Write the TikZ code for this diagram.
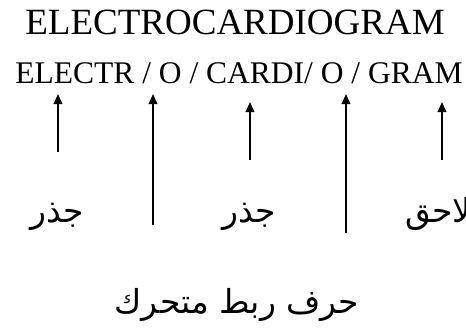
\documentclass[tikz,border=0pt]{standalone}
\usepackage{fontspec}
\setmainfont{Liberation Serif}
\newfontfamily\arabicfont[Script=Arabic]{DejaVu Sans}
\TeXXeTstate=1
\usetikzlibrary{arrows.meta}
\begin{document}
\begin{tikzpicture}[x=1pt,y=-1pt,
  txt/.style={inner sep=0pt,outer sep=0pt,anchor=base},
  arr/.style={line width=1.8pt,-{Triangle[length=10pt,width=8.5pt]}},
  ar/.style={txt,font=\arabicfont\fontsize{33}{38}\selectfont}]
\useasboundingbox (0,0) rectangle (466,327);
\node[txt,font=\fontsize{37}{40}\selectfont] (title) at (235,34) {ELECTROCARDIOGRAM};
\node[txt,font=\fontsize{31.5}{34}\selectfont] (split) at (239,83) {ELECTR / O / CARDI/ O / GRAM};
\coordinate (t1) at (58,94);  \coordinate (b1) at (58,152);
\coordinate (t2) at (153,94); \coordinate (b2) at (153,225);
\coordinate (t3) at (250,102); \coordinate (b3) at (250,160);
\coordinate (t4) at (346,94); \coordinate (b4) at (346,233);
\coordinate (t5) at (442,102); \coordinate (b5) at (442,160);
\draw[arr] (b1) -- (t1);
\draw[arr] (b2) -- (t2);
\draw[arr] (b3) -- (t3);
\draw[arr] (b4) -- (t4);
\draw[arr] (b5) -- (t5);
\node[ar] (root1) at (57,222) {\beginR جذر\endR};
\node[ar] (root2) at (249,222) {\beginR جذر\endR};
\node[ar,anchor=base west] (suffix) at (405,222) {\beginR لاحق\endR};
\node[ar] (link) at (237,313) {\beginR حرف ربط متحرك\endR};
\end{tikzpicture}
\end{document}
